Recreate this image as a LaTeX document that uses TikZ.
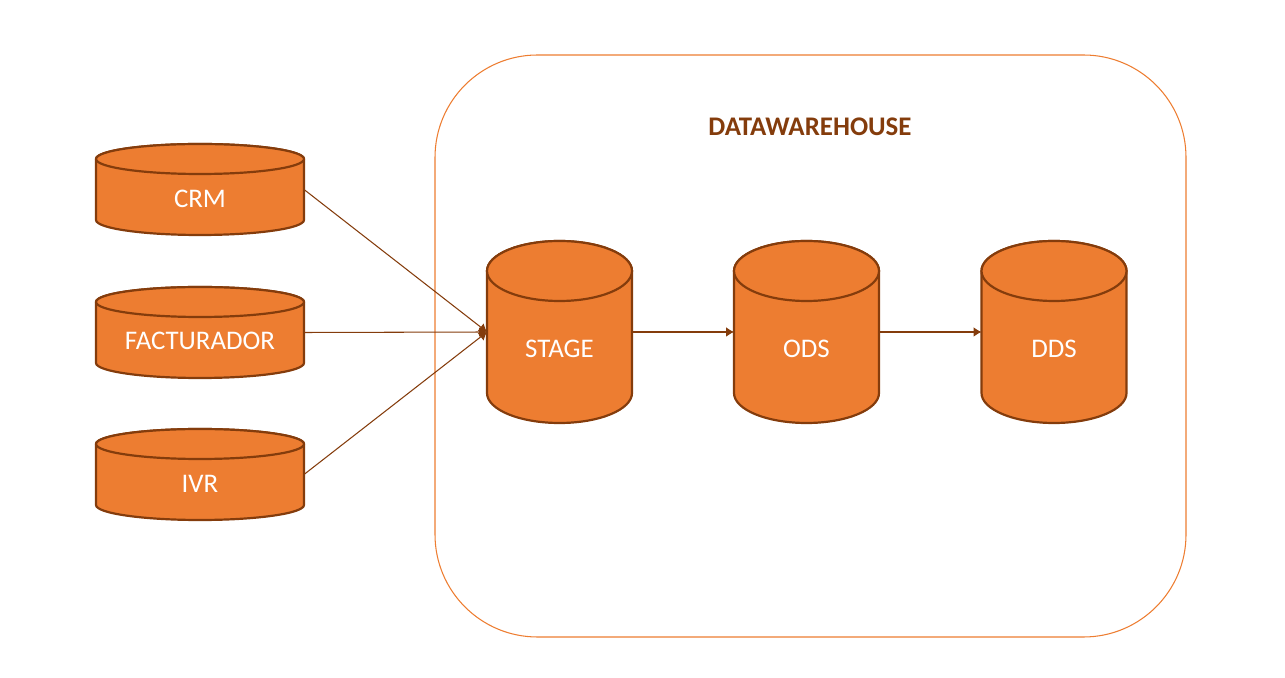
\documentclass[tikz,border=0pt]{standalone}
\usepackage{fontspec}
\setmainfont{Carlito}
\usepackage{xcolor}
\usepackage{tikz}
\usetikzlibrary{arrows.meta}
\definecolor{fillorange}{HTML}{ED7D31}
\definecolor{darkorange}{HTML}{843C0C}
% name, x, y, x radius, y radius, half height, text drop, text
\newcommand{\dbcyl}[8]{
  \begin{scope}[shift={(#2,#3)}]
    \filldraw[dbline] (-#4,#6-#5) -- (-#4,-#6+#5)
      arc[start angle=180,end angle=360,x radius=#4,y radius=#5]
      -- (#4,#6-#5) arc[start angle=0,end angle=180,x radius=#4,y radius=#5];
    \draw[dbline] (0,#6-#5) circle[x radius=#4,y radius=#5];
    \node[inner sep=0pt,outer sep=0pt,minimum width=2*#4 cm,minimum height=2*#6 cm] (#1) at (0,0) {};
    \node[text=white] (#1text) at (0,-#7) {#8};
  \end{scope}
}

\begin{document}
\begin{tikzpicture}[>={Latex[length=4.5pt,width=5.5pt]},font=\fontsize{15.3}{18}\selectfont,
   dbline/.style={draw=darkorange,fill=fillorange,line width=1.25pt},
   link/.style={->,draw=darkorange,line width=0.6pt}]
  \useasboundingbox (0,0) rectangle (25.7,13.54);
  \node[draw=fillorange,line width=0.6pt,rounded corners=2.05cm,minimum width=15.02cm,minimum height=11.64cm,
    outer sep=0pt] (dw) at (16.21,6.62) {};
  \node[text=darkorange,font=\fontsize{15.3}{18}\selectfont\bfseries] (title) at (16.2,11.0) {DATAWAREHOUSE};
  \dbcyl{crm}{4}{9.75}{2.08}{0.30}{0.91}{0.19}{CRM}
  \dbcyl{fact}{4}{6.89}{2.08}{0.30}{0.91}{0.17}{FACTURADOR}
  \dbcyl{ivr}{4}{4.05}{2.08}{0.30}{0.91}{0.19}{IVR}
  \dbcyl{stage}{11.19}{6.9}{1.45}{0.60}{1.82}{0.34}{STAGE}
  \dbcyl{ods}{16.13}{6.9}{1.45}{0.60}{1.82}{0.34}{ODS}
  \dbcyl{dds}{21.08}{6.9}{1.45}{0.60}{1.82}{0.34}{DDS}
  \draw[link] (crm.east)--(stage.west);
  \draw[link] (fact.east)--(stage.west);
  \draw[link] (ivr.east)--(stage.west);
  \draw[link] (stage.east)--(ods.west);
  \draw[link] (ods.east)--(dds.west);
\end{tikzpicture}
\end{document}
